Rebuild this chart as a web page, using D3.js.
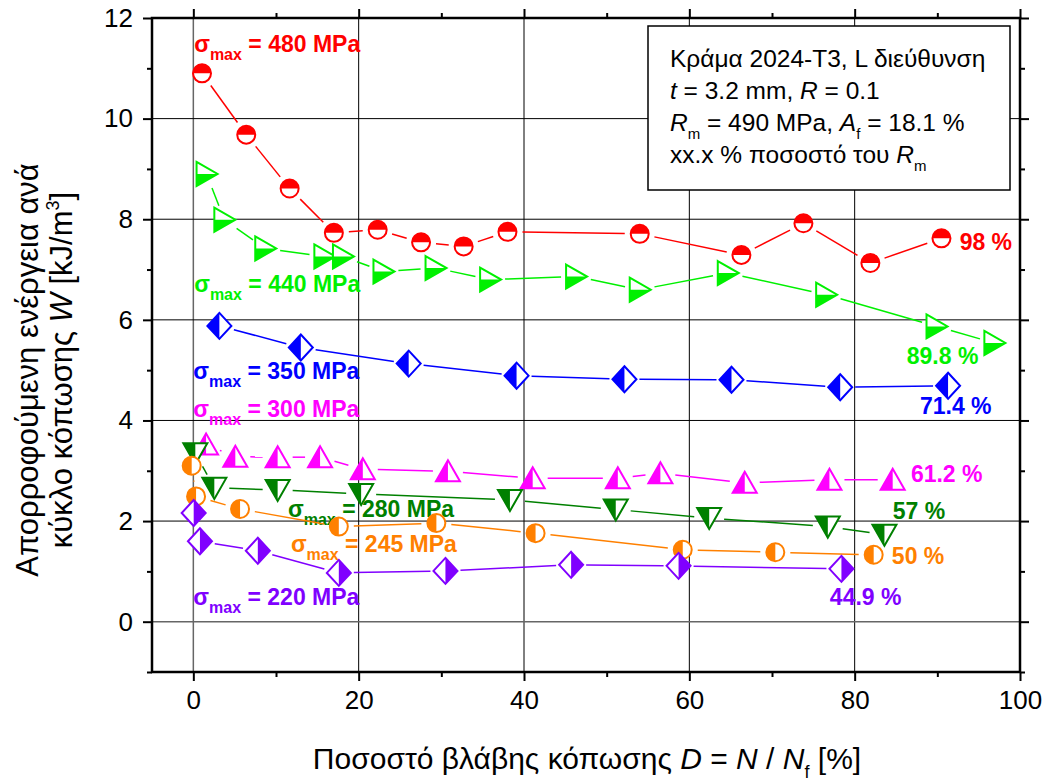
<!DOCTYPE html>
<html>
<head>
<meta charset="utf-8">
<script src="https://cdn.jsdelivr.net/npm/d3@7"></script>
<style>
  body { margin: 0; background: #fff; }
  text { font-family: Arial, "Liberation Sans", sans-serif; }
</style>
</head>
<body>
<script>
'use strict';
// --- data ---
let x480 = [1.05, 6.4, 11.65, 17.0, 22.3, 27.55, 32.7, 38.0, 54.0, 66.3, 73.8, 81.9, 90.5];
let w480 = [10.90, 9.68, 8.61, 7.73, 7.79, 7.54, 7.46, 7.75, 7.71, 7.29, 7.92, 7.13, 7.62];
let x440 = [1.6, 3.75, 8.7, 15.85, 18.1, 23.0, 29.3, 35.9, 46.3, 54.0, 64.65, 76.55, 89.9, 96.9];
let w440 = [8.90, 7.99, 7.42, 7.26, 7.26, 6.96, 7.03, 6.80, 6.86, 6.60, 6.93, 6.50, 5.87, 5.54];
let x350 = [3.15, 13.0, 26.05, 39.1, 52.15, 65.1, 78.25, 91.3];
let w350 = [5.88, 5.45, 5.13, 4.89, 4.82, 4.81, 4.66, 4.69];
let x300 = [1.54, 5.08, 10.2, 15.33, 20.5, 30.8, 41.05, 51.35, 56.5, 66.7, 76.95, 84.6];
let w300 = [3.52, 3.28, 3.27, 3.27, 3.03, 2.99, 2.85, 2.85, 2.95, 2.76, 2.82, 2.82];
let x280 = [0.24, 2.54, 10.2, 20.3, 38.3, 51.1, 62.4, 76.75, 83.6];
let w280 = [3.35, 2.66, 2.62, 2.54, 2.42, 2.23, 2.06, 1.89, 1.73];
let x245 = [-0.2, 0.33, 5.65, 17.6, 29.4, 41.4, 59.2, 70.4, 82.3];
let w245 = [3.10, 2.49, 2.24, 1.89, 1.96, 1.76, 1.43, 1.38, 1.33];
let x220 = [0.04, 0.8, 7.8, 17.6, 30.5, 45.7, 58.7, 78.4];
let w220 = [2.16, 1.60, 1.41, 0.97, 1.01, 1.13, 1.11, 1.05];

let stressLabels = ["480", "440", "350", "300", "280", "245", "220"];
let percentLabels = ["98 %", "89.8 %", "71.4 %", "61.2 %", "57 %", "50 %", "44.9 %"];
let xTicks = [0, 20, 40, 60, 80, 100];
let yTicks = [0, 2, 4, 6, 8, 10, 12];

let series = [
  { xs: x480, ys: w480, color: "#ff0000", shape: "circleTop", stressAt: [0.1, 11.32], pctAt: [92.7, 7.39] },
  { xs: x440, ys: w440, color: "#00f000", shape: "triRight", stressAt: [0.1, 6.55], pctAt: [86.3, 5.12] },
  { xs: x350, ys: w350, color: "#0000ff", shape: "diamondLeft", stressAt: [0, 4.83], pctAt: [87.9, 4.12] },
  { xs: x300, ys: w300, color: "#ff00ff", shape: "triUp", stressAt: [0, 4.07], pctAt: [86.8, 2.78] },
  { xs: x280, ys: w280, color: "#008000", shape: "triDown", stressAt: [11.45, 2.08], pctAt: [84.6, 2.04] },
  { xs: x245, ys: w245, color: "#ff8000", shape: "circleLeft", stressAt: [11.8, 1.39], pctAt: [84.5, 1.15] },
  { xs: x220, ys: w220, color: "#8000ff", shape: "diamondRight", stressAt: [0, 0.33], pctAt: [77.0, 0.33] }
];

let svg = d3.select("body").append("svg")
  .attr("width", 1051)
  .attr("height", 782);

let x = d3.scaleLinear().domain([-5, 100]).range([152, 1020]);
let y = d3.scaleLinear().domain([-1, 12]).range([672, 18]);

// grid
let grid = svg.append("g");
[0, 20, 40, 60, 80].forEach((v) => {
  grid.append("line")
    .attr("x1", x(v)).attr("x2", x(v)).attr("y1", y(12)).attr("y2", y(-1))
    .attr("stroke", v === 0 ? "#666" : "#000")
    .attr("stroke-width", v === 0 ? 1.5 : 1);
});
[0, 2, 4, 6, 8, 10].forEach((v) => {
  grid.append("line")
    .attr("x1", x(-5)).attr("x2", x(100)).attr("y1", y(v)).attr("y2", y(v))
    .attr("stroke", v === 0 ? "#666" : "#000")
    .attr("stroke-width", v === 0 ? 1.5 : 1);
});

// axes (major + minor ticks, outward on all four sides)
function addAxis(axisFn, scale, transform, major, minor, labels) {
  let g = svg.append("g").attr("transform", transform);
  g.call(axisFn(scale).tickValues(minor).tickSize(5).tickFormat(""));
  let g2 = svg.append("g").attr("transform", transform);
  g2.call(axisFn(scale).tickValues(major).tickSize(9).tickPadding(10)
    .tickFormat(labels ? d3.format("d") : ""));
  [g, g2].forEach((s) => {
    s.select(".domain").remove();
    s.selectAll("line").attr("stroke", "#000").attr("stroke-width", 2);
    s.selectAll("text").attr("font-size", 26).attr("fill", "#000")
      .style("font-family", "Arial, 'Liberation Sans', sans-serif");
  });
}
let xMinor = [10, 30, 50, 70, 90];
let yMinor = [-1, 1, 3, 5, 7, 9, 11];
addAxis(d3.axisBottom, x, "translate(0,672)", xTicks, xMinor, true);
addAxis(d3.axisTop, x, "translate(0,18)", xTicks, xMinor, false);
addAxis(d3.axisLeft, y, "translate(152,0)", yTicks, yMinor, true);
addAxis(d3.axisRight, y, "translate(1020,0)", yTicks, yMinor, false);

svg.append("rect")
  .attr("x", x(-5)).attr("y", y(12))
  .attr("width", x(100) - x(-5)).attr("height", y(-1) - y(12))
  .attr("fill", "none").attr("stroke", "#000").attr("stroke-width", 2.5);

// marker shapes: [outline, filled half]
let shapes = {
  triRight: ["M-10,-12L11,0L-10,12Z", "M-10,0L11,0L-10,12Z"],
  triUp: ["M0,-11L12,10L-12,10Z", "M0,-11L0,10L-12,10Z"],
  triDown: ["M-12,-10L12,-10L0,11Z", "M-12,-10L0,-10L0,11Z"],
  diamondLeft: ["M0,-13L12,0L0,13L-12,0Z", "M0,-13L0,13L-12,0Z"],
  diamondRight: ["M0,-13L12,0L0,13L-12,0Z", "M0,-13L12,0L0,13Z"]
};

function drawMarker(g, shape, color) {
  if (shape === "circleTop" || shape === "circleLeft") {
    let r = 9;
    g.append("circle").attr("r", r).attr("fill", "#fff");
    let half = shape === "circleTop"
      ? "M" + (-r) + ",0A" + r + "," + r + " 0 0 1 " + r + ",0Z"
      : "M0," + (-r) + "A" + r + "," + r + " 0 0 0 0," + r + "Z";
    g.append("path").attr("d", half).attr("fill", color);
    g.append("circle").attr("r", r).attr("fill", "none")
      .attr("stroke", color).attr("stroke-width", 2);
  } else {
    g.append("path").attr("d", shapes[shape][0]).attr("fill", "#fff");
    g.append("path").attr("d", shapes[shape][1]).attr("fill", color);
    g.append("path").attr("d", shapes[shape][0]).attr("fill", "none")
      .attr("stroke", color).attr("stroke-width", 2);
  }
}

let gap = 15;
series.forEach((s, i) => {
  let pts = s.xs.map((v, j) => [x(v), y(s.ys[j])]);
  let lines = svg.append("g");
  for (let j = 0; j < pts.length - 1; j++) {
    let [ax, ay] = pts[j];
    let [bx, by] = pts[j + 1];
    let len = Math.hypot(bx - ax, by - ay);
    if (len <= gap * 2) continue;
    let ux = (bx - ax) / len, uy = (by - ay) / len;
    lines.append("line")
      .attr("x1", ax + ux * gap).attr("y1", ay + uy * gap)
      .attr("x2", bx - ux * gap).attr("y2", by - uy * gap)
      .attr("stroke", s.color).attr("stroke-width", 1.5);
  }
  let marks = svg.append("g");
  pts.forEach((p) => {
    drawMarker(marks.append("g").attr("transform", "translate(" + p[0] + "," + p[1] + ")"), s.shape, s.color);
  });

  let t = svg.append("text")
    .attr("x", x(s.stressAt[0])).attr("y", y(s.stressAt[1]))
    .attr("fill", s.color).attr("font-weight", "bold").attr("font-size", 23);
  t.append("tspan").text("σ");
  t.append("tspan").attr("font-size", 16).attr("dy", 8).text("max");
  t.append("tspan").attr("dy", -8).text(" = " + stressLabels[i] + " MPa");

  svg.append("text")
    .attr("x", x(s.pctAt[0])).attr("y", y(s.pctAt[1]))
    .attr("fill", s.color).attr("font-weight", "bold").attr("font-size", 23)
    .text(percentLabels[i]);
});

// info box
let box = svg.append("g");
box.append("rect")
  .attr("x", 648).attr("y", 26).attr("width", 362).attr("height", 164)
  .attr("fill", "#fff").attr("stroke", "#000").attr("stroke-width", 1.5);
let lx = 670, fs = 24.5, sub = 15;
box.append("text").attr("x", lx).attr("y", 67).attr("font-size", fs)
  .text("Κράμα 2024-Τ3, L διεύθυνση");
let l2 = box.append("text").attr("x", lx).attr("y", 99).attr("font-size", fs);
l2.append("tspan").attr("font-style", "italic").text("t");
l2.append("tspan").text(" = 3.2 mm, ");
l2.append("tspan").attr("font-style", "italic").text("R");
l2.append("tspan").text(" = 0.1");
let l3 = box.append("text").attr("x", lx).attr("y", 131).attr("font-size", fs);
l3.append("tspan").attr("font-style", "italic").text("R");
l3.append("tspan").attr("font-size", sub).attr("dy", 8).text("m");
l3.append("tspan").attr("dy", -8).text(" = 490 MPa, ");
l3.append("tspan").attr("font-style", "italic").text("A");
l3.append("tspan").attr("font-size", sub).attr("dy", 8).text("f");
l3.append("tspan").attr("dy", -8).text(" = 18.1 %");
let l4 = box.append("text").attr("x", lx).attr("y", 163).attr("font-size", fs);
l4.append("tspan").text("xx.x % ποσοστό του ");
l4.append("tspan").attr("font-style", "italic").text("R");
l4.append("tspan").attr("font-size", sub).attr("dy", 8).text("m");

// axis titles
let xt = svg.append("text")
  .attr("x", 587).attr("y", 769).attr("text-anchor", "middle").attr("font-size", 30);
xt.append("tspan").text("Ποσοστό βλάβης κόπωσης ");
xt.append("tspan").attr("font-style", "italic").text("D");
xt.append("tspan").text(" = ");
xt.append("tspan").attr("font-style", "italic").text("N");
xt.append("tspan").text(" / ");
xt.append("tspan").attr("font-style", "italic").text("N");
xt.append("tspan").attr("font-size", 18).attr("dy", 9).text("f");
xt.append("tspan").attr("dy", -9).text(" [%]");

let yt = svg.append("g").attr("transform", "translate(38,370)rotate(-90)");
yt.append("text").attr("text-anchor", "middle").attr("font-size", 31)
  .text("Απορροφούμενη ενέργεια ανά");
let yt2 = yt.append("text").attr("y", 34).attr("text-anchor", "middle").attr("font-size", 31);
yt2.append("tspan").text("κύκλο κόπωσης ");
yt2.append("tspan").attr("font-style", "italic").text("W");
yt2.append("tspan").text(" [kJ/m");
yt2.append("tspan").attr("font-size", 18).attr("dy", -13).text("3");
yt2.append("tspan").attr("dy", 13).text("]");
</script>
</body>
</html>
